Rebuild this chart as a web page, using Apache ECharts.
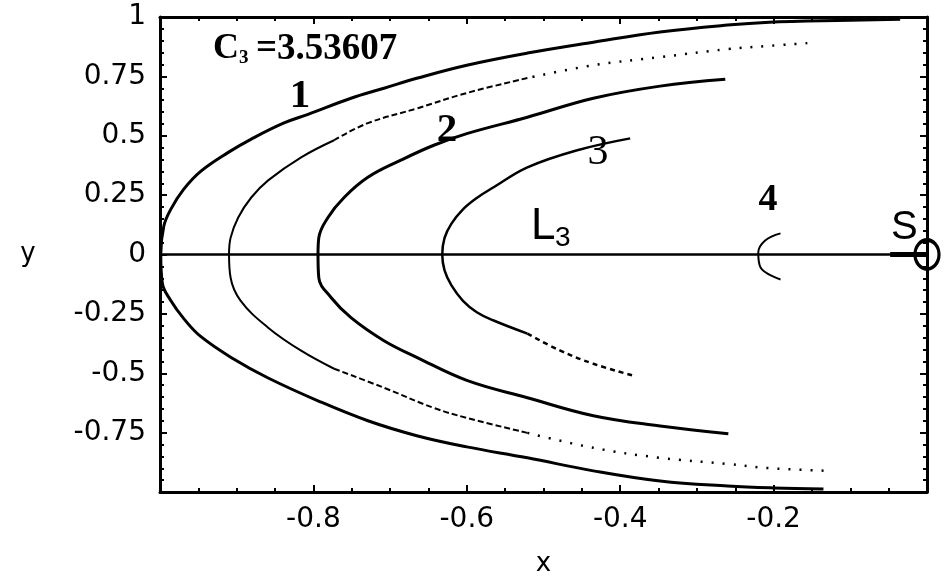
<!DOCTYPE html>
<html>
<head>
<meta charset="utf-8">
<title>C3 zero velocity curves</title>
<script src="https://cdn.jsdelivr.net/npm/echarts@6/dist/echarts.min.js"></script>
<style>html,body{margin:0;padding:0;background:#fff;}</style>
</head>
<body>
<div id="main" style="width:948px;height:584px;"></div>
<script>
// axes
var xRange = [-1, 0], xStep = 0.2;
var yRange = [-1, 1], yStep = 0.25;

// curve 1 (outer, thick)
var curve1 = [[-0.035,0.99],[-0.156,0.983],[-0.2,0.979],[-0.26,0.966],[-0.348,0.937],[-0.435,0.894],[-0.521,0.848],
  [-0.6,0.797],[-0.664,0.743],[-0.708,0.7],[-0.751,0.658],[-0.807,0.59],[-0.839,0.553],[-0.881,0.486],[-0.911,0.43],
  [-0.947,0.35],[-0.969,0.275],[-0.986,0.19],[-0.995,0.12],[-0.999,0],[-0.997,-0.12],[-0.986,-0.194],[-0.969,-0.27],
  [-0.947,-0.345],[-0.904,-0.44],[-0.859,-0.52],[-0.794,-0.616],[-0.729,-0.7],[-0.664,-0.764],[-0.6,-0.81],
  [-0.521,-0.856],[-0.435,-0.911],[-0.348,-0.954],[-0.26,-0.975],[-0.2,-0.983],[-0.135,-0.987]];

// thin curve between 1 and 2 : solid near vertex, dashed, then dotted
var curveBSolid = [[-0.773,0.481],[-0.816,0.409],[-0.859,0.312],[-0.881,0.24],[-0.898,0.156],[-0.908,0.07],[-0.91,0],
  [-0.908,-0.097],[-0.895,-0.194],[-0.859,-0.308],[-0.816,-0.405],[-0.773,-0.481]];
var curveBDashUp = [[-0.521,0.743],[-0.6,0.68],[-0.664,0.616],[-0.729,0.553],[-0.773,0.481]];
var curveBDashLow = [[-0.773,-0.481],[-0.708,-0.561],[-0.643,-0.646],[-0.6,-0.688],[-0.521,-0.751]];
var curveBDotUp = [[-0.156,0.89],[-0.208,0.878],[-0.26,0.865],[-0.348,0.831],[-0.435,0.797],[-0.521,0.743]];
var curveBDotLow = [[-0.521,-0.751],[-0.435,-0.814],[-0.348,-0.856],[-0.26,-0.882],[-0.208,-0.899],[-0.128,-0.911]];

// curve 2
var curve2 = [[-0.263,0.738],[-0.348,0.709],[-0.435,0.658],[-0.521,0.578],[-0.599,0.51],[-0.643,0.46],[-0.686,0.397],
  [-0.729,0.325],[-0.76,0.24],[-0.781,0.156],[-0.793,0.07],[-0.794,0],[-0.793,-0.097],[-0.777,-0.181],[-0.751,-0.266],
  [-0.708,-0.363],[-0.664,-0.435],[-0.6,-0.53],[-0.521,-0.603],[-0.435,-0.679],[-0.348,-0.722],[-0.259,-0.755]];

// curve 3
var curve3 = [[-0.387,0.489],[-0.456,0.439],[-0.521,0.367],[-0.565,0.283],[-0.587,0.238],[-0.605,0.19],[-0.62,0.13],
  [-0.629,0.07],[-0.632,0],[-0.629,-0.067],[-0.62,-0.13],[-0.605,-0.195],[-0.587,-0.243],[-0.565,-0.278],[-0.521,-0.333]];
var curve3Dash = [[-0.521,-0.333],[-0.478,-0.405],[-0.435,-0.46],[-0.383,-0.51]];

// curve 4 (small arc)
var curve4 = [[-0.191,0.089],[-0.211,0.059],[-0.22,0.008],[-0.217,-0.055],[-0.191,-0.105]];

// x axis line y = 0, the thick part near S, and the point S
var zeroLine = [[-1,0],[0,0]];
var zeroThick = [[-0.048,0],[0,0]];
var sunPoint = [[0,0]];

var myChart = echarts.init(document.getElementById('main'));

function line(data, width, type) {
    return {
        type: 'line', data: data, showSymbol: false, symbol: 'none', smooth: 0.4,
        lineStyle: {color: '#000', width: width, type: type || 'solid'}
    };
}

var tickFont = {fontFamily: 'DejaVu Sans', fontSize: 28, color: '#000'};
function xAx(pos, labels) {
    return {
        type: 'value', min: xRange[0], max: xRange[1], interval: xStep, position: pos,
        axisLine: {onZero: false, lineStyle: {color: '#000', width: 3}},
        axisTick: {inside: true, length: 7, lineStyle: {color: '#000', width: 2}},
        minorTick: {show: true, splitNumber: 4, length: 4, lineStyle: {color: '#000', width: 2}},
        axisLabel: labels ? Object.assign({show: true, showMinLabel: false, showMaxLabel: false, margin: 14}, tickFont) : {show: false},
        splitLine: {show: false},
        name: labels ? 'x' : '', nameLocation: 'middle', nameGap: 72,
        nameTextStyle: {fontFamily: 'DejaVu Sans', fontSize: 26, color: '#000', align: 'center', verticalAlign: 'middle'}
    };
}
function yAx(pos, labels) {
    return {
        type: 'value', min: yRange[0], max: yRange[1], interval: yStep, position: pos,
        axisLine: {onZero: false, lineStyle: {color: '#000', width: 3}},
        axisTick: {inside: true, length: 7, lineStyle: {color: '#000', width: 2}},
        minorTick: {show: true, splitNumber: 5, length: 4, lineStyle: {color: '#000', width: 2}},
        axisLabel: labels ? Object.assign({show: true, showMinLabel: false, margin: 14}, tickFont) : {show: false},
        splitLine: {show: false},
        name: labels ? 'y' : '', nameLocation: 'middle', nameGap: 132, nameRotate: 0,
        nameTextStyle: {fontFamily: 'DejaVu Sans', fontSize: 26, color: '#000', align: 'center', verticalAlign: 'middle'}
    };
}

function txt(x, y, s, font, align) {
    return {type: 'text', x: x, y: y, z: 100,
        style: {text: s, font: font, fill: '#000', align: align || 'left', verticalAlign: 'middle'}};
}

function sb(s) { return 'bold ' + s + 'px "Liberation Serif"'; }

var option = {
    animation: false,
    grid: {left: 160, right: 21, top: 17, bottom: 92, containLabel: false},
    xAxis: [xAx('bottom', true), xAx('top', false)],
    yAxis: [yAx('left', true), yAx('right', false)],
    series: [
        line(zeroLine, 2.5),
        line(zeroThick, 5),
        line(curve1, 3),
        line(curveBSolid, 2),
        line(curveBDashUp, 2, [6, 3]),
        line(curveBDashLow, 2, [6, 3]),
        line(curveBDotUp, 2.5, [2, 9]),
        line(curveBDotLow, 2.5, [2, 9]),
        line(curve2, 3),
        line(curve3, 2.5),
        line(curve3Dash, 2.5, [5, 4]),
        line(curve4, 2),
        {type: 'scatter', data: sunPoint, symbol: 'circle', symbolSize: [24, 29], clip: false, z: 20,
         itemStyle: {color: 'rgba(255,255,255,0)', borderColor: '#000', borderWidth: 3.5, opacity: 1}}
    ],
    graphic: [
        txt(213, 49, 'C', sb(36)),
        txt(239, 58, '3', sb(19)),
        txt(256, 49, '=3.53607', sb(37)),
        txt(300, 96, '1', sb(41), 'center'),
        txt(447, 130, '2', sb(41), 'center'),
        txt(598, 153, '3', '42px "Liberation Serif"', 'center'),
        txt(768, 200, '4', sb(38), 'center'),
        txt(531, 227, 'L', '44px "Liberation Sans"'),
        txt(555, 238, '3', '28px "Liberation Sans"'),
        txt(891, 228, 'S', '40px "Liberation Sans"')
    ]
};
myChart.setOption(option);
</script>
</body>
</html>
